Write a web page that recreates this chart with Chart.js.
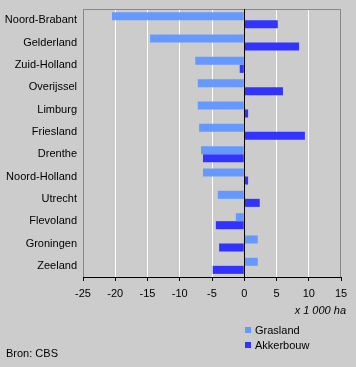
<!DOCTYPE html>
<html><head><meta charset="utf-8">
<script src="https://cdn.jsdelivr.net/npm/chart.js@4"></script>
<style>
html,body{margin:0;padding:0;background:#cccccc;}
#wrap{position:relative;width:356px;height:367px;background:#cccccc;font-family:"Liberation Sans",Arial,sans-serif;font-size:11px;color:#000;}
canvas{position:absolute;left:0;top:0;}
.t{position:absolute;white-space:nowrap;line-height:12px;}
.sq{position:absolute;width:6px;height:6px;}
</style></head>
<body><div id="wrap"><canvas id="c" width="356" height="367"></canvas>
<div class="t" id="unit" style="right:10px;top:304px;font-style:italic;">x 1 000 ha</div>
<div class="sq" id="sq0" style="left:245px;top:327px;"></div>
<div class="t" id="lg0" style="left:255px;top:324px;"></div>
<div class="sq" id="sq1" style="left:245px;top:342px;"></div>
<div class="t" id="lg1" style="left:255px;top:339px;"></div>
<div class="t" style="left:6px;top:347px;">Bron: CBS</div>
</div>
<script>
const provinces = ["Noord-Brabant","Gelderland","Zuid-Holland","Overijssel","Limburg","Friesland","Drenthe","Noord-Holland","Utrecht","Flevoland","Groningen","Zeeland"];
const grasland = [-20.5,-14.6,-7.6,-7.2,-7.2,-7.0,-6.7,-6.4,-4.1,-1.3,2.1,2.1];
const akkerbouw = [5.2,8.5,-0.7,6.0,0.6,9.4,-6.4,0.6,2.4,-4.4,-3.9,-4.9];
const seriesNames = ["Grasland","Akkerbouw"];
const seriesColors = ["#6699ff","#3333ff"];
const xMin = -25, xMax = 15, xStep = 5;

document.getElementById('lg0').textContent = seriesNames[0];
document.getElementById('lg1').textContent = seriesNames[1];
document.getElementById('sq0').style.background = seriesColors[0];
document.getElementById('sq1').style.background = seriesColors[1];

const frame = {
  id:'frame',
  afterDatasetsDraw(chart){
    const {ctx, chartArea:a, scales:{x}} = chart;
    ctx.save();
    ctx.lineWidth = 1;
    ctx.strokeStyle = '#888888';
    ctx.beginPath();
    ctx.moveTo(a.left+0.5, a.bottom); ctx.lineTo(a.left+0.5, a.top+0.5);
    ctx.lineTo(a.right-0.5, a.top+0.5); ctx.lineTo(a.right-0.5, a.bottom);
    ctx.stroke();
    ctx.strokeStyle = '#000000';
    const z = Math.round(x.getPixelForValue(0))+0.5;
    ctx.beginPath(); ctx.moveTo(z, a.top); ctx.lineTo(z, a.bottom); ctx.stroke();
    ctx.beginPath(); ctx.moveTo(a.left, a.bottom+0.5); ctx.lineTo(a.right, a.bottom+0.5); ctx.stroke();
    ctx.restore();
  }
};

new Chart(document.getElementById('c'), {
  type:'bar',
  data:{
    labels: provinces,
    datasets:[
      {label:seriesNames[0], data:grasland, backgroundColor:seriesColors[0], categoryPercentage:0.72, barPercentage:1},
      {label:seriesNames[1], data:akkerbouw, backgroundColor:seriesColors[1], categoryPercentage:0.72, barPercentage:1}
    ]
  },
  options:{
    indexAxis:'y',
    responsive:false,
    animation:false,
    layout:{padding:{left:0,right:15,top:9,bottom:0}},
    plugins:{legend:{display:false},tooltip:{enabled:false}},
    scales:{
      x:{
        min:xMin, max:xMax,
        ticks:{stepSize:xStep, color:'#000', font:{family:'"Liberation Sans", Arial, sans-serif', size:11}, padding:6},
        grid:{
          color: c => (c.tick.value===xMin||c.tick.value===xMax) ? 'rgba(0,0,0,0)' : (c.tick.value===0 ? '#000' : '#ffffff'),
          tickColor:'#000', tickLength:4, lineWidth:1
        },
        border:{display:false},
        afterFit: s => { s.height = 90; s.paddingLeft = 0; s.paddingRight = 0; }
      },
      y:{
        ticks:{color:'#000', font:{family:'"Liberation Sans", Arial, sans-serif', size:11}, padding:6},
        grid:{display:false, drawTicks:false},
        border:{display:false},
        afterFit: s => { s.width = 83; s.paddingTop = 0; s.paddingBottom = 0; }
      }
    }
  },
  plugins:[frame]
});
</script></body></html>
